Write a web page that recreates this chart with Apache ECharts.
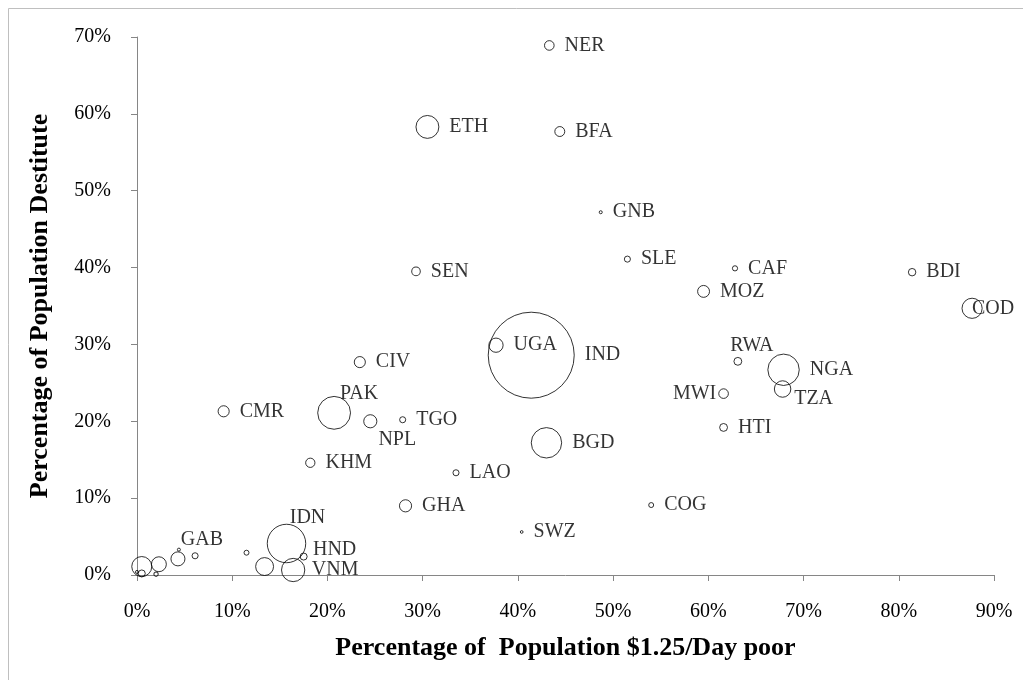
<!DOCTYPE html>
<html>
<head>
<meta charset="utf-8">
<script src="https://cdn.jsdelivr.net/npm/echarts@6/dist/echarts.min.js"></script>
<style>
  html, body { margin: 0; padding: 0; background: #fff; }
  #chart { width: 1023px; height: 680px; }
</style>
</head>
<body>
<div id="chart"></div>
<script>
// country codes ('' = unlabelled bubble)
const codes = ['NER','ETH','BFA','GNB','SLE','CAF','BDI','SEN','MOZ','COD',
  'UGA','IND','CIV','RWA','NGA','TZA','MWI','HTI','PAK','CMR',
  'NPL','TGO','BGD','KHM','LAO','GHA','COG','SWZ','IDN','HND',
  'VNM','','','GAB','','','','','','',''];
// % of population below $1.25/day
const poorPct = [43.3,30.5,44.4,48.7,51.5,62.8,81.4,29.3,59.5,87.7,
  37.7,41.4,23.4,63.1,67.9,67.8,61.6,61.6,20.7,9.1,
  24.5,27.9,43.0,18.2,33.5,28.2,54.0,40.4,15.7,17.5,
  16.4,13.4,11.5,4.4,4.3,6.1,2.3,0.5,0.5,0.0,2.0];
// % of population destitute
const destitutePct = [68.9,58.3,57.7,47.2,41.1,39.9,39.4,39.5,36.9,34.7,
  29.9,28.6,27.7,27.8,26.7,24.2,23.6,19.2,21.1,21.3,
  20.0,20.2,17.2,14.6,13.3,9.0,9.1,5.6,4.1,2.4,
  0.65,1.1,2.9,3.3,2.1,2.5,1.4,1.1,0.2,0.4,0.1];
// population (millions), drives bubble area
const population = [15,85,16,1.5,6,4.4,9,12,23,66,
  33,1200,20,10,160,44,15,10,175,20,
  28,6,150,14,6,24,4,1.2,240,8,
  88,52,4,1.5,32,6,36,65,8,1.5,3];

const xTicks = [0,10,20,30,40,50,60,70,80,90];
const yTicks = [0,10,20,30,40,50,60,70];

// label centre offsets (px from bubble centre) where the label is not simply to the right
const labelOffsets = {
  PAK: [25, -19], NPL: [27, 18], IDN: [21, -26], HND: [31, -7],
  VNM: [42, 0], GAB: [23, -10], RWA: [14, -16], TZA: [31, 10], COD: [21, 0],
  MWI: [-29, 0]
};

const serif = '"Liberation Serif", "DejaVu Serif", serif';
const maxPop = Math.max(...population);
const diam = p => 86 * Math.sqrt(p / maxPop);

const seriesData = codes.map((c, i) => ({
  name: c,
  value: [poorPct[i], destitutePct[i], population[i]],
  label: { show: !!c }
}));

const chart = echarts.init(document.getElementById('chart'));
chart.setOption({
  animation: false,
  backgroundColor: '#fff',
  graphic: [{
    type: 'rect',
    shape: { x: 8.5, y: 8.5, width: 1040, height: 700 },
    style: { fill: 'none', stroke: '#bfbfbf', lineWidth: 1 },
    silent: true
  }],
  grid: { left: 137, right: 29, top: 37, bottom: 105, containLabel: false },
  xAxis: {
    type: 'value', min: xTicks[0], max: xTicks[xTicks.length - 1], interval: 10,
    name: 'Percentage of  Population $1.25/Day poor',
    nameLocation: 'middle', nameGap: 60,
    nameTextStyle: { fontFamily: serif, fontSize: 26, fontWeight: 'bold', color: '#000' },
    axisLine: { show: true, lineStyle: { color: '#868686' } },
    axisTick: { show: true, inside: false, length: 6, lineStyle: { color: '#868686' } },
    axisLabel: { formatter: '{value}%', fontFamily: serif, fontSize: 20, color: '#000', margin: 27 },
    splitLine: { show: false }
  },
  yAxis: {
    type: 'value', min: yTicks[0], max: yTicks[yTicks.length - 1], interval: 10,
    name: 'Percentage of Population Destitute',
    nameLocation: 'middle', nameGap: 84,
    nameTextStyle: { fontFamily: serif, fontSize: 26, fontWeight: 'bold', color: '#000' },
    axisLine: { show: true, lineStyle: { color: '#868686' } },
    axisTick: { show: true, inside: false, length: 6, lineStyle: { color: '#868686' } },
    axisLabel: { formatter: '{value}%', fontFamily: serif, fontSize: 20, color: '#000', margin: 26 },
    splitLine: { show: false }
  },
  series: [{
    type: 'scatter',
    symbol: 'circle',
    symbolSize: v => Math.max(diam(v[2]), 2.5),
    itemStyle: { color: 'rgba(0,0,0,0)', borderColor: '#000', borderWidth: 1 },
    label: {
      show: true, position: 'right', distance: 10,
      formatter: p => p.name,
      fontFamily: serif, fontSize: 20, color: '#000'
    },
    labelLayout: params => {
      const off = labelOffsets[codes[params.dataIndex]];
      if (!off) return { hideOverlap: false };
      const r = params.rect;
      return {
        x: r.x + r.width / 2 + off[0],
        y: r.y + r.height / 2 + off[1],
        align: 'center', verticalAlign: 'middle', hideOverlap: false
      };
    },
    data: seriesData
  }]
});
</script>
</body>
</html>
